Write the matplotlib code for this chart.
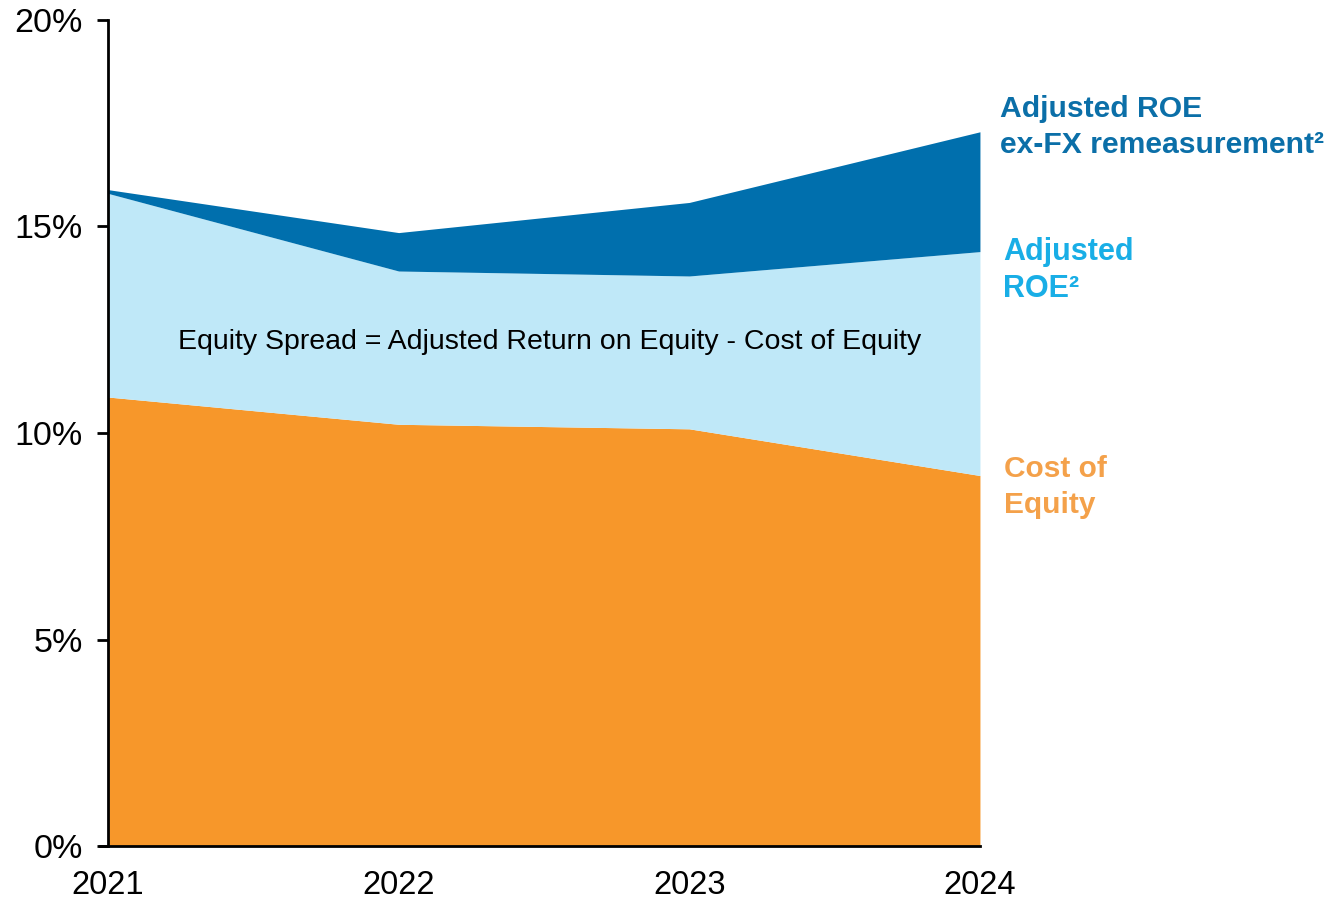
import matplotlib.pyplot as plt
from matplotlib.ticker import FuncFormatter

plt.rcParams['font.family'] = ['Liberation Sans', 'DejaVu Sans']

years = [2021, 2022, 2023, 2024]
cost_of_equity = [10.87, 10.21, 10.10, 8.97]
adjusted_roe = [15.80, 13.92, 13.80, 14.39]
adjusted_roe_ex_fx = [15.89, 14.85, 15.58, 17.29]

orange = '#F7972A'
light_blue = '#BFE8F8'
dark_blue = '#006FAD'

fig = plt.figure(figsize=(13.3, 9.02), dpi=100)
ax = fig.add_axes([0.0812, 0.062, 0.6556, 0.916])

ax.fill_between(years, 0, cost_of_equity, color=orange, lw=0)
ax.fill_between(years, cost_of_equity, adjusted_roe, color=light_blue, lw=0)
ax.fill_between(years, adjusted_roe, adjusted_roe_ex_fx, color=dark_blue, lw=0)

ax.set_xlim(years[0], years[-1])
ax.set_ylim(0, 20)
ax.set_yticks([0, 5, 10, 15, 20])
ax.yaxis.set_major_formatter(FuncFormatter(lambda v, p: f'{v:.0f}%'))
ax.set_xticks(years)
ax.set_xticklabels([str(y) for y in years])

for s in ['top', 'right']:
    ax.spines[s].set_visible(False)
for s in ['left', 'bottom']:
    ax.spines[s].set_linewidth(2)
    ax.spines[s].set_color('black')
ax.spines['bottom'].set_bounds(years[0] - 0.028, years[-1])

ax.tick_params(axis='y', length=8, width=2, labelsize=24.5, pad=10)
ax.tick_params(axis='x', length=0, labelsize=23.5, pad=17)

ax.text(2022.52, 12.2, 'Equity Spread = Adjusted Return on Equity - Cost of Equity',
        ha='center', va='center', fontsize=20.5, color='black')

fig.text(0.752, 0.859, 'Adjusted ROE\nex-FX remeasurement²', color='#0B6FA8',
         fontsize=21.7, fontweight='bold', ha='left', va='center', linespacing=1.36)
fig.text(0.754, 0.700, 'Adjusted\nROE²', color='#19AEE6',
         fontsize=22, fontweight='bold', ha='left', va='center', linespacing=1.3)
fig.text(0.755, 0.460, 'Cost of\nEquity', color='#F4A14A',
         fontsize=21.5, fontweight='bold', ha='left', va='center', linespacing=1.36)

fig.savefig('out.png', dpi=100)
